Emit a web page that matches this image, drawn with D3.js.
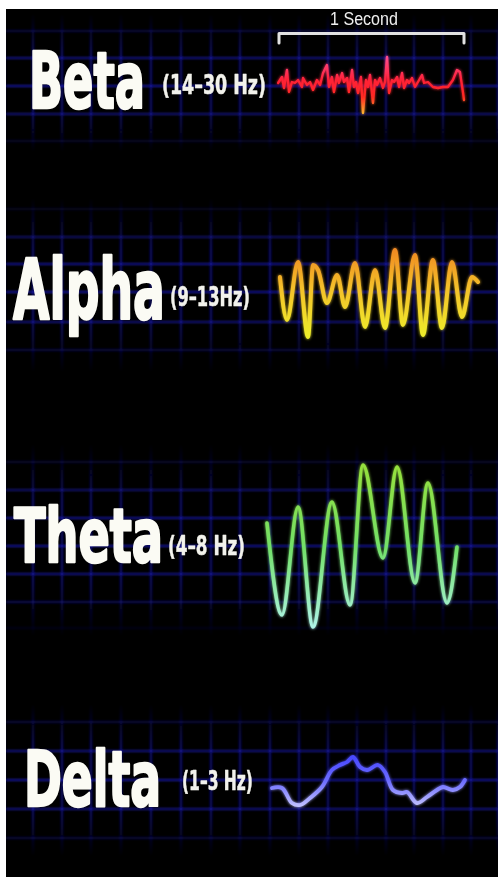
<!DOCTYPE html>
<html>
<head>
<meta charset="utf-8">
<script src="https://cdn.jsdelivr.net/npm/d3@7"></script>
<style>
  html, body { margin: 0; padding: 0; background: #fff; }
  svg { display: block; }
</style>
</head>
<body>
<div id="chart"></div>
<script>
// time in ms (0 = left end of the "1 Second" bracket), amplitude in arbitrary units
var betaT = [-5, 16, 27, 43, 54, 70, 86, 103, 124, 130, 151, 168, 184, 205, 222, 238, 259, 270, 286, 297,
             314, 324, 341, 351, 368, 378, 395, 405, 416, 427, 443, 454, 470, 481, 492, 508, 519, 530, 546, 562,
             573, 584, 595, 611, 622, 638, 649, 665, 676, 692, 703, 719, 735, 751, 773, 784, 805, 832, 859, 886,
             913, 940, 962, 978, 995, 1000];
var betaV = [0, 6, -5, 13, -9, 1, 0, 3, -4, 5, -2, 1, -7, 3, -2, 10, 18, -4, 6, -9,
             8, 0, 10, 1, 5, -9, 13, -4, 1, -10, 6, -30, 3, -4, 8, -20, 3, -2, 5, -5,
             1, 26, -10, 3, 1, 6, -4, 10, -5, 3, 0, 5, -4, 1, 8, 0, 1, -4, -5, -4,
             -4, 3, 13, 11, -10, -17];

var alphaT = [5, 43, 103, 157, 184, 211, 259, 314, 357, 411, 465, 519, 573, 627, 670, 735, 778, 832, 881, 935, 989, 1043, 1076];
var alphaV = [18, -25, 33, -42, 30, 25, -8, 20, -12, 32, -32, 25, -33, 45, -30, 40, -40, 35, -33, 33, -22, 18, 13];

var thetaT = [-65, 16, 103, 184, 286, 384, 454, 562, 638, 735, 805, 908, 962];
var thetaV = [22, -70, 38, -82, 43, -60, 80, -13, 78, -38, 62, -58, -2];

var deltaT = [-38, 16, 70, 114, 168, 232, 286, 330, 368, 400, 438, 476, 535, 573, 616, 665, 692, 746, 800, 854, 886, 940, 978, 1005];
var deltaV = [-3, -3, -18, -20, -13, -2, 15, 20, 23, 28, 18, 15, 20, 13, -5, -8, -7, -18, -12, -5, -2, -5, -2, 5];

var bandNames = ["Beta", "Alpha", "Theta", "Delta"];
var bandRanges = ["(14\u201330 Hz)", "(9\u201313Hz)", "(4\u20138 Hz)", "(1\u20133 Hz)"];
var scaleLabel = "1 Second";

var W = 498, H = 877;

var rows = [
  { t: betaT, v: betaV, yc: 83, curve: d3.curveLinear, sw: 2.3,
    name: { x: 28, y: 109, fs: 80, w: 118 }, range: { x: 162, y: 94, fs: 27, w: 104 },
    grad: [[0, "#ff4a8a"], [0.4, "#ff2036"], [0.7, "#ff2a22"], [1, "#ffb830"]], gy: [58, 114],
    band: { top: 14, bottom: 152, lines: [31, 58, 86, 114, 141] } },
  { t: alphaT, v: alphaV, yc: 295, curve: d3.curveMonotoneX, sw: 4,
    name: { x: 12, y: 320, fs: 86, w: 154 }, range: { x: 170, y: 306, fs: 27, w: 80 },
    grad: [[0, "#f08a22"], [0.45, "#f4c22a"], [1, "#eef02c"]], gy: [250, 338],
    band: { top: 198, bottom: 372, lines: [209, 237, 264, 292, 322, 350] } },
  { t: thetaT, v: thetaV, yc: 545, curve: d3.curveMonotoneX, sw: 3.6,
    name: { x: 13, y: 563, fs: 76, w: 151 }, range: { x: 168, y: 555, fs: 27, w: 77 },
    grad: [[0, "#96e03c"], [0.5, "#72e068"], [1, "#b0f4ec"]], gy: [465, 630],
    band: { top: 444, bottom: 636, lines: [462, 490, 518, 546, 574, 602, 628] } },
  { t: deltaT, v: deltaV, yc: 785, curve: d3.curveCatmullRom, sw: 3.8,
    name: { x: 23, y: 807, fs: 78, w: 139 }, range: { x: 182, y: 790, fs: 26, w: 71 },
    grad: [[0, "#4848ff"], [0.5, "#6e6eff"], [1, "#c0c0ff"]], gy: [757, 806],
    band: { top: 704, bottom: 856, lines: [722, 751, 780, 809, 838] } }
];

var gridX = [4, 33, 62, 91, 121, 151, 181, 211, 240, 270, 299, 328, 357, 386, 414, 443, 471, 498];

var x = d3.scaleLinear().domain([0, 1000]).range([279, 464]);

var svg = d3.select("#chart").append("svg").attr("width", W).attr("height", H);
svg.append("rect").attr("width", W).attr("height", H).attr("fill", "#fff");
svg.append("rect").attr("x", 6).attr("y", 9).attr("width", W - 6).attr("height", H - 9).attr("fill", "#000");

var defs = svg.append("defs");

defs.append("clipPath").attr("id", "screen")
  .append("rect").attr("x", 6).attr("y", 9).attr("width", W - 6).attr("height", H - 9);

function glow(id, sd) {
  var f = defs.append("filter").attr("id", id)
    .attr("filterUnits", "userSpaceOnUse")
    .attr("x", 0).attr("y", 0).attr("width", W).attr("height", H);
  f.append("feGaussianBlur").attr("in", "SourceGraphic").attr("stdDeviation", sd).attr("result", "b");
  var m = f.append("feMerge");
  m.append("feMergeNode").attr("in", "b");
  m.append("feMergeNode").attr("in", "SourceGraphic");
}
glow("waveGlow", 1.8);

function blur(id, sd) {
  defs.append("filter").attr("id", id)
    .attr("filterUnits", "userSpaceOnUse")
    .attr("x", 0).attr("y", 0).attr("width", W).attr("height", H)
    .append("feGaussianBlur").attr("stdDeviation", sd);
}
blur("gridBlur", 1.1);
blur("soft", 0.5);

var screen = svg.append("g").attr("clip-path", "url(#screen)");

// grid bands
rows.forEach(function (r, i) {
  var b = r.band;
  var vg = defs.append("linearGradient").attr("id", "vfade" + i)
    .attr("gradientUnits", "userSpaceOnUse")
    .attr("x1", 0).attr("x2", 0).attr("y1", b.top).attr("y2", b.bottom);
  [[0, 0], [0.3, 0.7], [0.7, 0.7], [1, 0]].forEach(function (s) {
    vg.append("stop").attr("offset", s[0]).attr("stop-color", "#1212a0").attr("stop-opacity", s[1]);
  });

  var g = screen.append("g").attr("filter", "url(#gridBlur)");
  g.selectAll("line.v").data(gridX).enter().append("line")
    .attr("class", "v")
    .attr("x1", function (d) { return d; }).attr("x2", function (d) { return d; })
    .attr("y1", b.top).attr("y2", b.bottom)
    .attr("stroke", "url(#vfade" + i + ")").attr("stroke-width", 2.2);

  var mid = (b.top + b.bottom) / 2, half = (b.bottom - b.top) / 2;
  g.selectAll("line.h").data(b.lines).enter().append("line")
    .attr("class", "h")
    .attr("x1", 6).attr("x2", W)
    .attr("y1", function (d) { return d; }).attr("y2", function (d) { return d; })
    .attr("stroke", "#1c1cc8").attr("stroke-width", 2.2)
    .attr("stroke-opacity", function (d) {
      var k = Math.abs(d - mid) / half;
      return Math.max(0.12, 0.78 - k * k * 0.8);
    });
});

// scale bracket
svg.append("path")
  .attr("d", "M" + x(0) + ",43V33.5H" + x(1000) + "V43")
  .attr("fill", "none").attr("stroke", "#e2e2e2").attr("stroke-width", 3)
  .attr("stroke-linejoin", "round").attr("stroke-linecap", "round")
  .attr("filter", "url(#soft)");

var textLayer = svg.append("g").attr("filter", "url(#soft)");

// condensed text: measure natural width, then squeeze horizontally to the target width
function squeezed(txt, px, py, fs, w, family, weight, fill, sw) {
  var t = textLayer.append("text")
    .attr("font-family", family).attr("font-weight", weight)
    .attr("font-size", fs).attr("fill", fill)
    .attr("stroke", fill).attr("stroke-width", sw).attr("stroke-linejoin", "round")
    .text(txt);
  var len = t.node().getComputedTextLength();
  t.attr("transform", "translate(" + px + "," + py + ") scale(" + (w / len) + ",1)");
  return t;
}

squeezed(scaleLabel, 330, 25, 19, 68, "'Liberation Sans', Arial, sans-serif", "normal", "#eeeeee", 0);

var condensed = "'Liberation Sans Narrow', 'DejaVu Sans Condensed', 'Roboto Condensed', sans-serif";

rows.forEach(function (r, i) {
  squeezed(bandNames[i], r.name.x + 1, r.name.y - 1, r.name.fs - 2, r.name.w - 2, condensed, "bold", "#fbfbf4", 2.4);
  squeezed(bandRanges[i], r.range.x, r.range.y, r.range.fs, r.range.w, condensed, "bold", "#f2f2ec", 0.5);

  var y = d3.scaleLinear().domain([-100, 100]).range([r.yc + 100, r.yc - 100]);

  var wg = defs.append("linearGradient").attr("id", "wave" + i)
    .attr("gradientUnits", "userSpaceOnUse")
    .attr("x1", 0).attr("x2", 0).attr("y1", r.gy[0]).attr("y2", r.gy[1]);
  r.grad.forEach(function (s) {
    wg.append("stop").attr("offset", s[0]).attr("stop-color", s[1]);
  });

  var pts = r.t.map(function (t, j) { return [t, r.v[j]]; });
  var line = d3.line()
    .x(function (d) { return x(d[0]); })
    .y(function (d) { return y(d[1]); })
    .curve(r.curve);

  svg.append("path")
    .datum(pts)
    .attr("d", line)
    .attr("fill", "none")
    .attr("stroke", "url(#wave" + i + ")")
    .attr("stroke-width", r.sw)
    .attr("stroke-linejoin", "round").attr("stroke-linecap", "round")
    .attr("filter", "url(#waveGlow)");
});
</script>
</body>
</html>
